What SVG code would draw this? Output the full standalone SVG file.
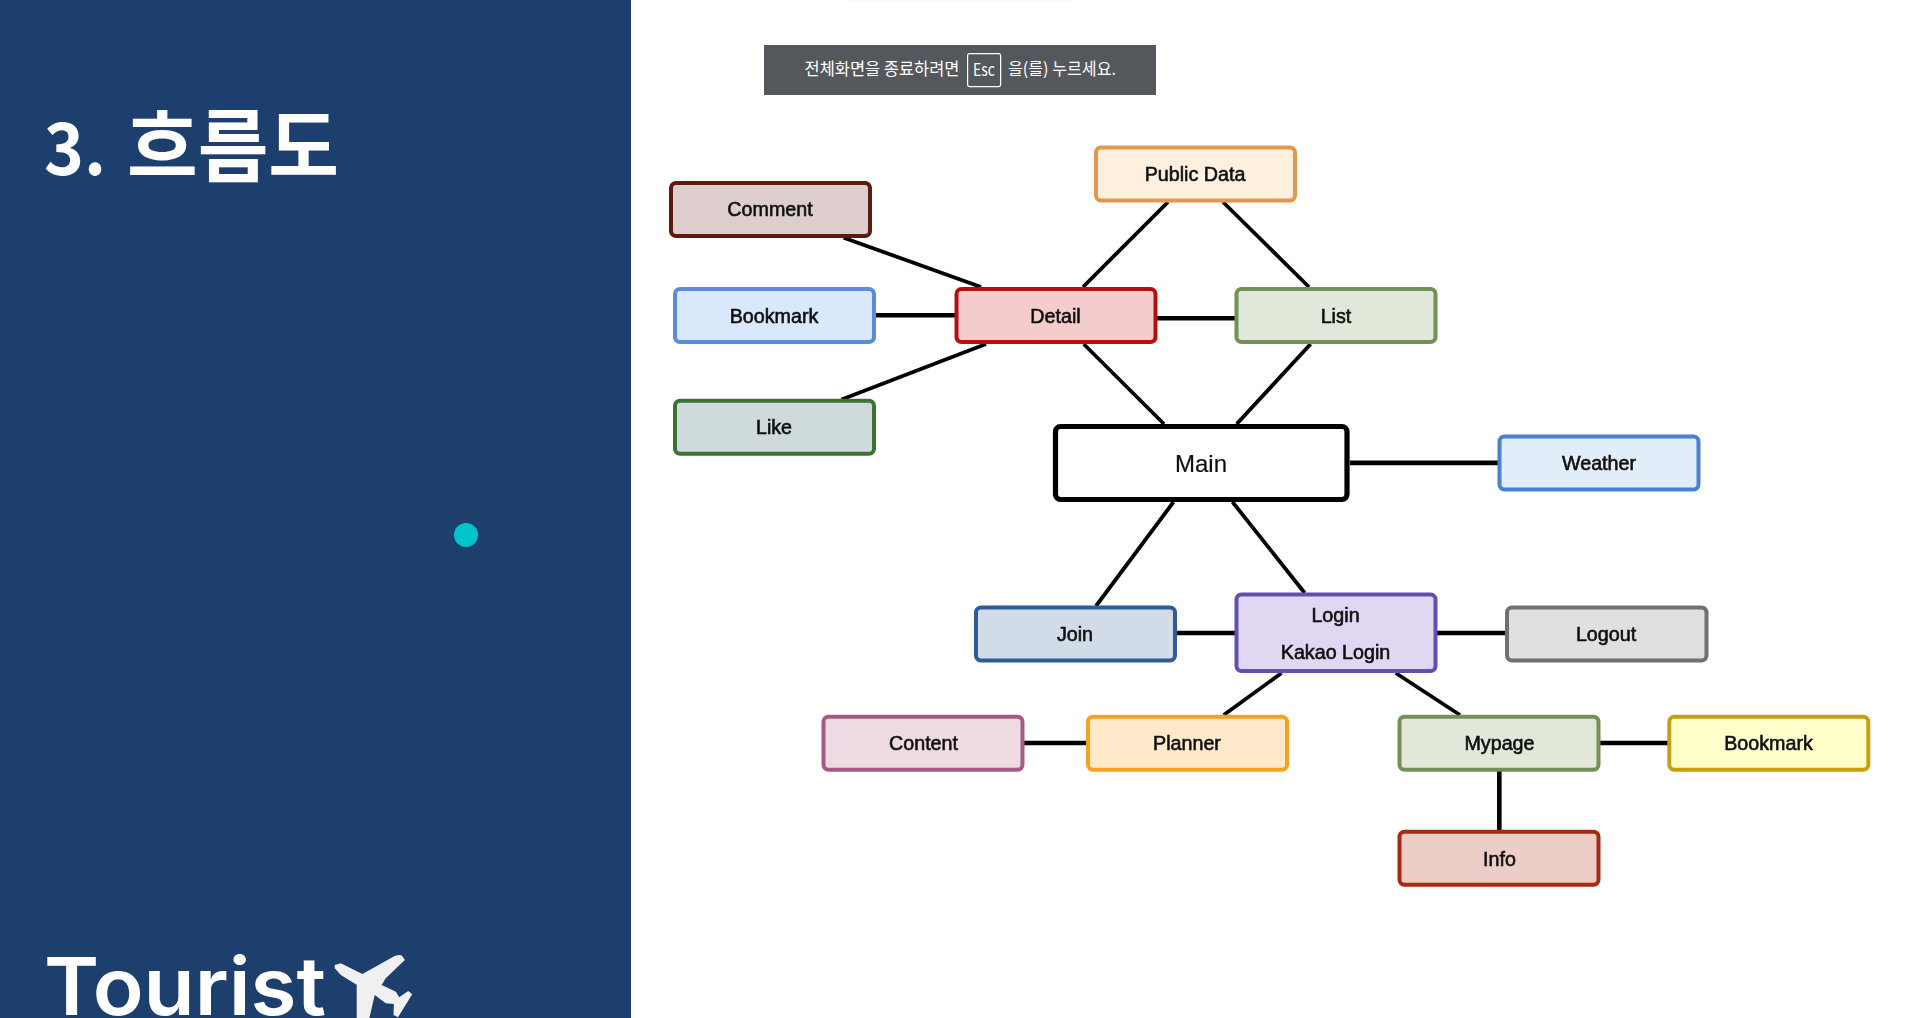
<svg xmlns="http://www.w3.org/2000/svg" width="1920" height="1018" viewBox="0 0 1920 1018">
<defs><filter id="soft" x="0" y="0" width="1920" height="1018" filterUnits="userSpaceOnUse"><feGaussianBlur stdDeviation="0.4"/></filter></defs>
<style>
.n rect{stroke-width:4}
.n text{font-family:"Liberation Sans",Arial,sans-serif;font-size:19.7px;text-anchor:middle;fill:#111;stroke:#111;stroke-width:.6px}
#connectors line{stroke:#000;stroke-width:3.8;stroke-linecap:butt}
#connectors line.h{stroke-width:4.6}
.bar{font-family:"Noto Sans CJK KR","Noto Sans",sans-serif;font-size:17px;fill:#fff;font-weight:400}
</style>
<rect width="1920" height="1018" fill="#fff"/>
<rect id="panel" width="631" height="1018" fill="#1d3f6e"/>
<circle cx="466" cy="535" r="12" fill="#00c4cc"/>
<text x="44" y="175" font-family="'Noto Sans CJK KR','Noto Sans',sans-serif" font-size="72" font-weight="700" fill="#fff" textLength="62" lengthAdjust="spacingAndGlyphs">3.</text>
<text x="127" y="175.5" font-family="'Noto Sans CJK KR','Noto Sans',sans-serif" font-size="79" font-weight="700" fill="#fff" textLength="212" lengthAdjust="spacingAndGlyphs">흐름도</text>
<text x="44" y="1015" font-family="Inter,'Liberation Sans',sans-serif" font-size="80" font-weight="600" fill="#fff" textLength="282" lengthAdjust="spacingAndGlyphs">Tourist</text>
<path id="plane" fill="#f0f0f0" d="M334.7 965L340.8 963.3L362.4 974L395.1 955.7Q400 954.5 402 955.7L404.9 960L385.7 978.3L381.6 985L395.9 991.7L399.2 997.3L408.2 991L412.2 994.3L398 1017.3L393.5 1015L393.9 1004L385.7 1003.3L374.7 995L369.4 1018L356.7 1018L356.7 984.7L340.8 975L334.7 968.3Z"/>

<rect x="850" y="0" width="223" height="2" rx="1" fill="#f9f9f9"/>
<g id="fullscreen-notice">
<rect x="764" y="45" width="392" height="50" fill="#54575b"/>
<text class="bar" x="804.5" y="75" textLength="155" lengthAdjust="spacingAndGlyphs">전체화면을 종료하려면</text>
<rect x="967.6" y="53.6" width="33" height="33" rx="2" fill="none" stroke="#fff" stroke-width="1.2"/>
<text class="bar" x="973" y="76" font-size="16" textLength="22" lengthAdjust="spacingAndGlyphs">Esc</text>
<text class="bar" x="1008" y="75" textLength="108" lengthAdjust="spacingAndGlyphs">을(를) 누르세요.</text>
</g>

<g id="diagram" filter="url(#soft)">
<g id="connectors">
<line x1="843.7" y1="237.7" x2="981" y2="287"/>
<line x1="1168" y1="202" x2="1083" y2="287"/>
<line x1="1223" y1="202" x2="1309" y2="287"/>
<line class="h" x1="875" y1="315.3" x2="955" y2="315.3"/>
<line class="h" x1="1157" y1="318.3" x2="1235" y2="318.3"/>
<line x1="986" y1="344" x2="841.6" y2="399.5"/>
<line x1="1083.7" y1="344" x2="1164" y2="424"/>
<line x1="1310.6" y1="344" x2="1236.7" y2="424"/>
<line class="h" x1="1350" y1="462.9" x2="1498" y2="462.9"/>
<line x1="1173.5" y1="502" x2="1096" y2="606"/>
<line x1="1232.5" y1="502" x2="1304.7" y2="593"/>
<line class="h" x1="1177" y1="633" x2="1235" y2="633"/>
<line class="h" x1="1437" y1="633" x2="1506" y2="633"/>
<line x1="1281.6" y1="673" x2="1223.7" y2="715"/>
<line x1="1395.7" y1="673" x2="1460" y2="715"/>
<line class="h" x1="1024" y1="743" x2="1087" y2="743"/>
<line class="h" x1="1600" y1="743" x2="1668" y2="743"/>
<line class="h" x1="1499.3" y1="771" x2="1499.3" y2="830"/>
</g>

<g id="public-data" class="n"><rect x="1096" y="147.5" width="199" height="53" rx="5" fill="#ffefdf" stroke="#e2984c"/><text x="1195" y="181.2">Public Data</text></g>
<g id="comment" class="n"><rect x="671" y="183" width="199" height="53" rx="5" fill="#ddcdcd" stroke="#5a1a10"/><text x="770" y="216.2">Comment</text></g>
<g id="bookmark" class="n"><rect x="675" y="289" width="199" height="53" rx="5" fill="#dae8fc" stroke="#5b8bd8"/><text x="774" y="323.2">Bookmark</text></g>
<g id="detail" class="n"><rect x="956.5" y="289" width="199" height="53" rx="5" fill="#f4cccc" stroke="#b80f10"/><text x="1055.5" y="323.2">Detail</text></g>
<g id="list" class="n"><rect x="1236.5" y="289" width="199" height="53" rx="5" fill="#e1e8da" stroke="#739058"/><text x="1336" y="323.2">List</text></g>
<g id="like" class="n"><rect x="675" y="400.8" width="199" height="53" rx="5" fill="#cfdbdb" stroke="#3e7236"/><text x="774" y="434.2">Like</text></g>
<g id="main" class="n"><rect x="1055.5" y="426.5" width="291.5" height="73" rx="5" fill="#fff" stroke="#000" style="stroke-width:5.2"/><text x="1201" y="472" style="font-size:24px;stroke-width:.2px">Main</text></g>
<g id="weather" class="n"><rect x="1499.5" y="436.5" width="199" height="53" rx="5" fill="#e1edf8" stroke="#4a80d0"/><text x="1599" y="470.2">Weather</text></g>
<g id="join" class="n"><rect x="976" y="607.5" width="199" height="53" rx="5" fill="#d2dce8" stroke="#2d5b94"/><text x="1075" y="641.2">Join</text></g>
<g id="login" class="n"><rect x="1236.5" y="594.5" width="199" height="76.5" rx="5" fill="#e1d7f2" stroke="#6450b0"/><text x="1335.5" y="622.2">Login</text><text x="1335.5" y="659.2">Kakao Login</text></g>
<g id="logout" class="n"><rect x="1507" y="607.5" width="199.5" height="53" rx="5" fill="#e0e0e0" stroke="#707070"/><text x="1606" y="641.2">Logout</text></g>
<g id="content" class="n"><rect x="823.5" y="716.8" width="199" height="53" rx="5" fill="#eddae3" stroke="#a55a83"/><text x="923.5" y="750.2">Content</text></g>
<g id="planner" class="n"><rect x="1088" y="716.8" width="199" height="53" rx="5" fill="#ffe9cb" stroke="#f5a21c"/><text x="1187" y="750.2">Planner</text></g>
<g id="mypage" class="n"><rect x="1399.5" y="716.8" width="199" height="53" rx="5" fill="#e1e8da" stroke="#739058"/><text x="1499.5" y="750.2">Mypage</text></g>
<g id="bookmark-2" class="n"><rect x="1669.3" y="716.8" width="199" height="53" rx="5" fill="#ffffcc" stroke="#c6a010"/><text x="1768.5" y="750.2">Bookmark</text></g>
<g id="info" class="n"><rect x="1399.5" y="831.8" width="199" height="53" rx="5" fill="#edcdc7" stroke="#a72a13"/><text x="1499.5" y="866.2">Info</text></g>
</g>
</svg>
